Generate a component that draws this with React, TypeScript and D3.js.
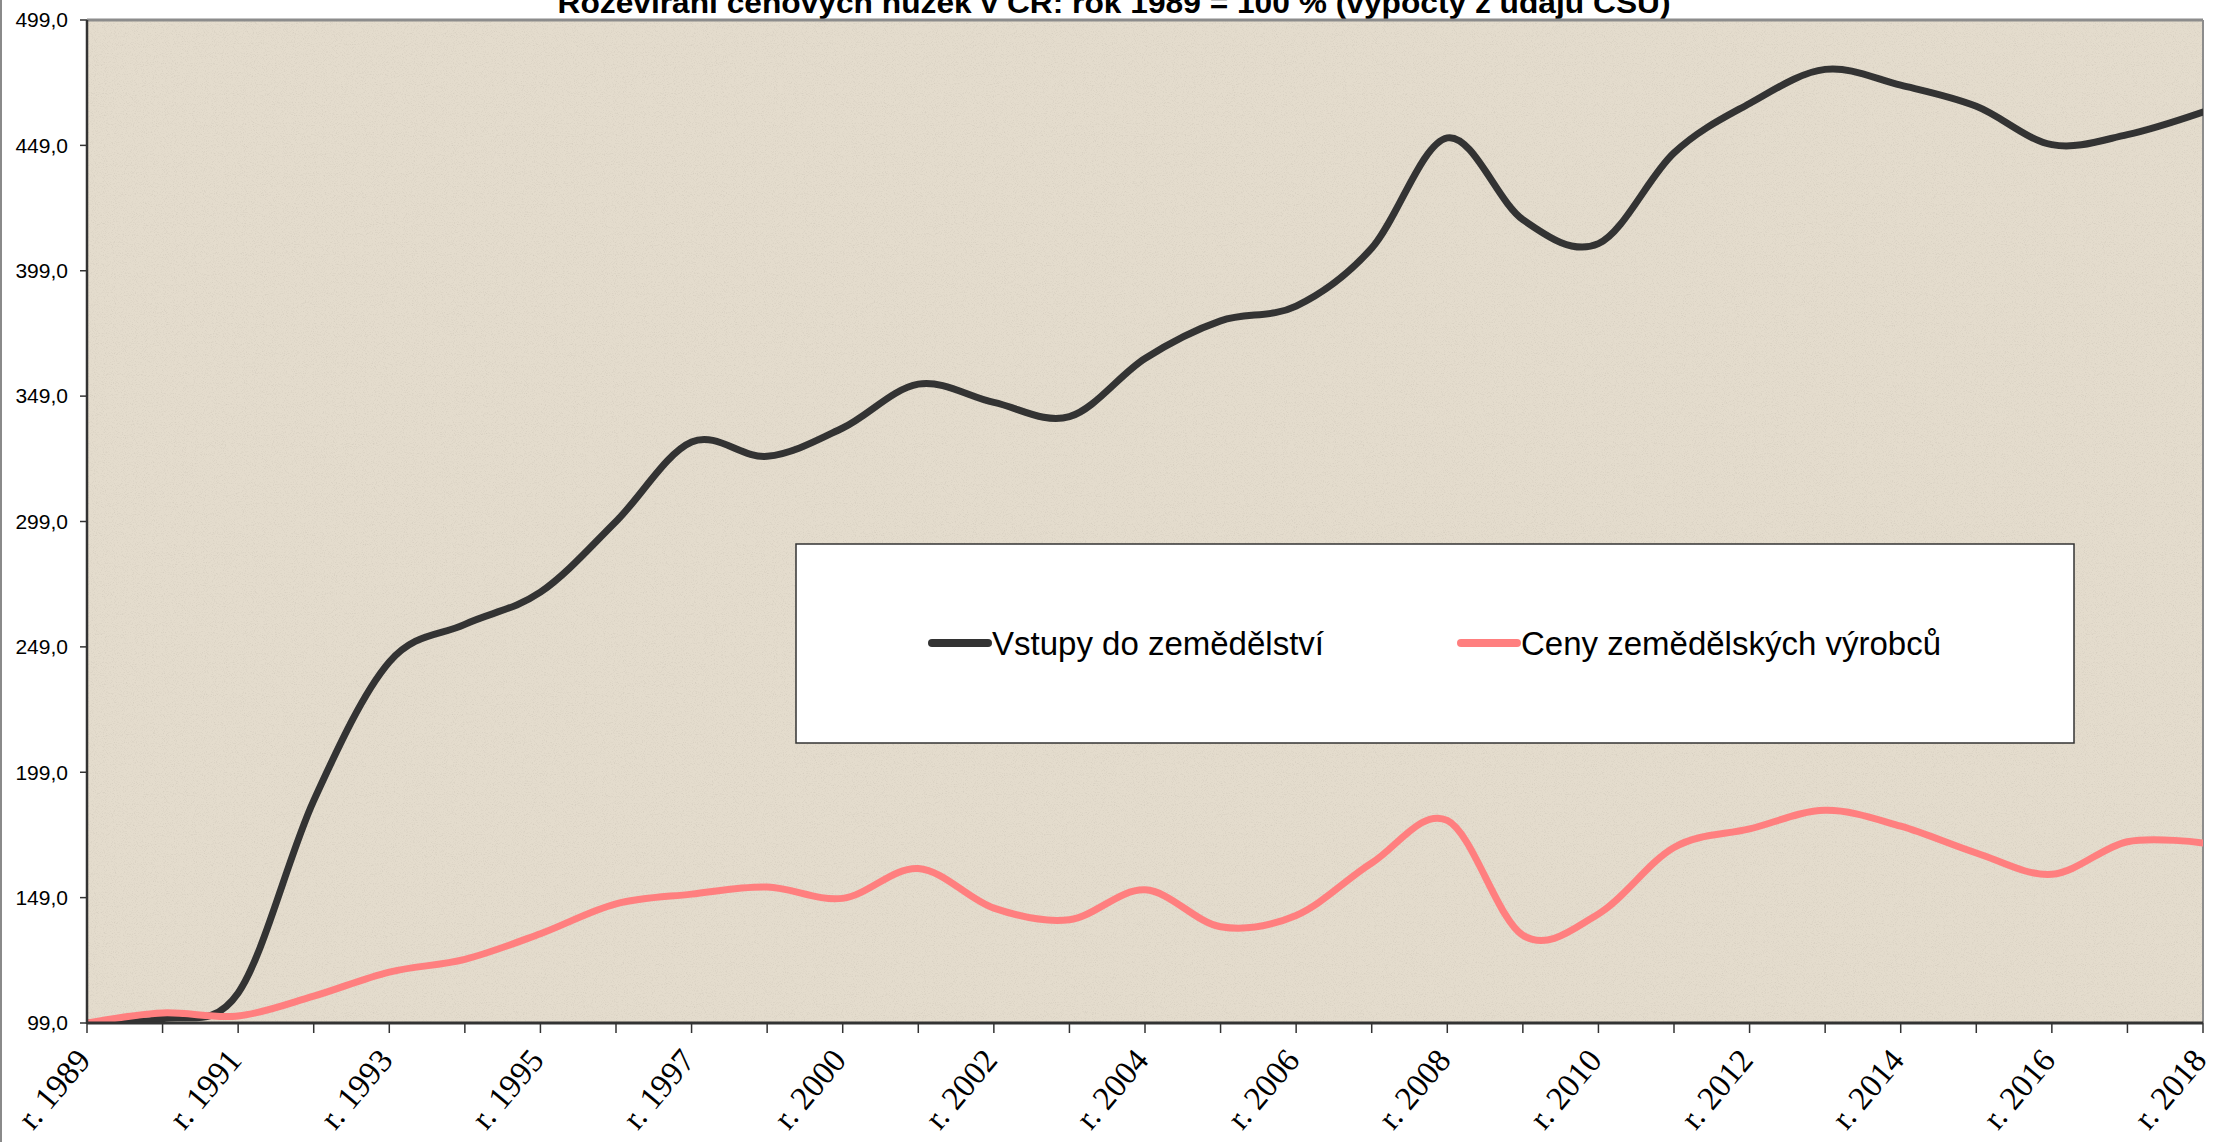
import React from "react";
import * as d3 from "d3";

const categories = [
  "r. 1989", "r. 1990", "r. 1991", "r. 1992", "r. 1993", "r. 1994", "r. 1995",
  "r. 1996", "r. 1997", "r. 1998", "r. 2000", "r. 2001", "r. 2002", "r. 2003",
  "r. 2004", "r. 2005", "r. 2006", "r. 2007", "r. 2008", "r. 2009", "r. 2010",
  "r. 2011", "r. 2012", "r. 2013", "r. 2014", "r. 2015", "r. 2016", "r. 2017",
  "r. 2018",
];

const vstupy = [
  99, 100.7, 111, 187.7, 243, 258, 270.8, 299, 330.7, 325, 336.3, 353.8, 346.5,
  340.8, 364, 379, 384.9, 408, 452, 419.4, 409.8, 446, 465.7, 479.3, 473, 464.6,
  449.3, 453.3, 462.3,
];

const ceny = [
  99, 103, 101.8, 109.7, 119.3, 124.4, 134.6, 146.5, 150.4, 153.2, 148.7, 160.6,
  144.8, 140.2, 152.1, 137.4, 141.9, 162.8, 179.8, 134, 142.5, 169, 176.4, 183.8,
  177.5, 166.8, 158.3, 171.3, 170.8,
];

const yTicks = [99, 149, 199, 249, 299, 349, 399, 449, 499];
const yTickLabels = ["99,0", "149,0", "199,0", "249,0", "299,0", "349,0", "399,0", "449,0", "499,0"];

const seriesNames = ["Vstupy do zemědělství", "Ceny zemědělských výrobců"];
const seriesColors = ["#333333", "#ff7f7f"];

const title = "Rozevírání cenových nůžek v ČR: rok 1989 = 100 % (výpočty z údajů ČSÚ)";

export default function App() {
  const W = 2214;
  const H = 1142;
  const left = 87;
  const right = 2203;
  const top = 20;
  const bottom = 1023;

  const x = d3.scalePoint<string>().domain(categories).range([left, right]);
  const y = d3.scaleLinear().domain([99, 499]).range([bottom, top]);

  const line = d3
    .line<number>()
    .x((_, i) => x(categories[i]) as number)
    .y((d) => y(d))
    .curve(d3.curveCatmullRom.alpha(0));

  const series = [vstupy, ceny];

  return (
    <svg
      width={W}
      height={H}
      style={{ position: "absolute", left: 0, top: 0, background: "#fff" }}
      fontFamily="'Liberation Sans', Arial, sans-serif"
    >
      <defs>
        <filter id="paper" x="0" y="0" width="100%" height="100%">
          <feTurbulence type="fractalNoise" baseFrequency="0.9" numOctaves="2" seed="7" result="n" />
          <feColorMatrix
            in="n"
            type="matrix"
            values="0 0 0 0 0.45  0 0 0 0 0.41  0 0 0 0 0.35  1.6 0 0 0 -0.8"
          />
        </filter>
        <clipPath id="plotClip">
          <rect x={left} y={top} width={right - left} height={bottom - top} />
        </clipPath>
      </defs>

      <rect x={0} y={0} width={W} height={H} fill="#ffffff" />
      <line x1={1} y1={0} x2={1} y2={H} stroke="#8a8a8a" strokeWidth={2} />

      {/* plot background */}
      <rect x={left} y={top} width={right - left} height={bottom - top} fill="#e4dccd" />
      <rect
        x={left}
        y={top}
        width={right - left}
        height={bottom - top}
        filter="url(#paper)"
        opacity={0.45}
      />

      {/* title */}
      <text
        x={1114}
        y={13}
        textAnchor="middle"
        fontWeight="bold"
        fontSize={30}
        textLength={1113}
        lengthAdjust="spacingAndGlyphs"
        fill="#000"
      >
        {title}
      </text>

      {/* frame */}
      <line x1={left} y1={top} x2={right} y2={top} stroke="#8c8c8c" strokeWidth={3} />
      <line x1={right} y1={top} x2={right} y2={bottom} stroke="#8c8c8c" strokeWidth={2} />

      {/* series */}
      <g clipPath="url(#plotClip)">
        {series.map((s, i) => (
          <path
            key={i}
            d={line(s) || ""}
            fill="none"
            stroke={seriesColors[i]}
            strokeWidth={7}
            strokeLinecap="round"
            strokeLinejoin="round"
          />
        ))}
      </g>

      {/* axes */}
      <line x1={left} y1={top} x2={left} y2={bottom + 1} stroke="#333" strokeWidth={2.5} />
      <line x1={left} y1={bottom} x2={right} y2={bottom} stroke="#333" strokeWidth={3} />

      {yTicks.map((t, i) => (
        <g key={t}>
          <line x1={left - 7} x2={left} y1={y(t)} y2={y(t)} stroke="#333" strokeWidth={1.5} />
          <text x={68} y={y(t)} dy="0.35em" textAnchor="end" fontSize={21} fill="#000">
            {yTickLabels[i]}
          </text>
        </g>
      ))}

      {categories.map((c, i) => {
        const cx = x(c) as number;
        return (
          <g key={c}>
            <line x1={cx} x2={cx} y1={bottom} y2={bottom + 10} stroke="#333" strokeWidth={1.5} />
            {i % 2 === 0 && (
              <text
                transform={`translate(${cx + 5},${1061}) rotate(-50)`}
                textAnchor="end"
                fontFamily="'Liberation Serif', 'Times New Roman', serif"
                fontSize={33}
                fill="#000"
              >
                {c}
              </text>
            )}
          </g>
        );
      })}

      {/* legend */}
      <rect x={796} y={544} width={1278} height={199} fill="#fff" stroke="#333" strokeWidth={1.5} />
      {[
        { lx: 932, tx: 992 },
        { lx: 1461, tx: 1521 },
      ].map((p, i) => (
        <g key={i}>
          <line
            x1={p.lx}
            x2={p.lx + 56}
            y1={643}
            y2={643}
            stroke={seriesColors[i]}
            strokeWidth={8}
            strokeLinecap="round"
          />
          <text x={p.tx} y={655} fontSize={33} fill="#000">
            {seriesNames[i]}
          </text>
        </g>
      ))}
    </svg>
  );
}
